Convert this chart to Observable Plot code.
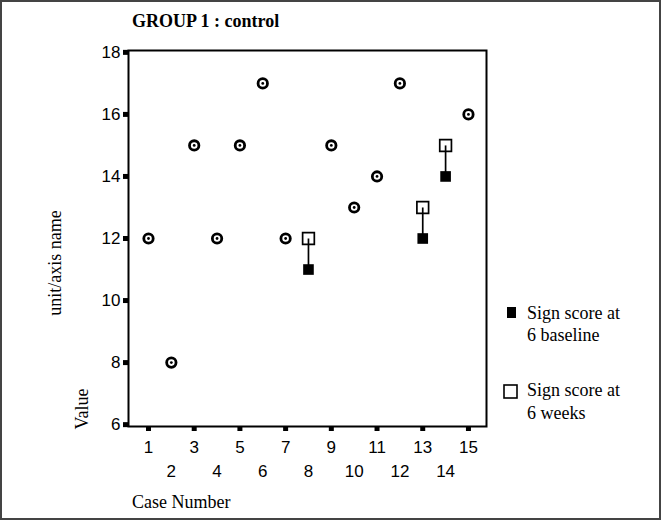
<!DOCTYPE html>
<html>
<head>
<meta charset="utf-8">
<script src="https://cdn.jsdelivr.net/npm/d3@7"></script>
<script src="https://cdn.jsdelivr.net/npm/@observablehq/plot@0.6"></script>
<style>
  html, body { margin: 0; padding: 0; background: #fff; }
  #chart { width: 662px; height: 521px; }
</style>
</head>
<body>
<div id="chart"></div>
<script>
// ---- data ----
const cases = [1, 2, 3, 4, 5, 6, 7, 8, 9, 10, 11, 12, 13, 14, 15];
const baseline = [12, 8, 15, 12, 15, 17, 12, 11, 15, 13, 14, 17, 12, 14, 16];
const weeks6   = [12, 8, 15, 12, 15, 17, 12, 12, 15, 13, 14, 17, 13, 15, 16];
const yTicks = [6, 8, 10, 12, 14, 16, 18];
const xTicksOdd = [1, 3, 5, 7, 9, 11, 13, 15];
const xTicksEven = [2, 4, 6, 8, 10, 12, 14];
const titleText = "GROUP 1 : control";
const xTitle = "Case Number";
const yTitle1 = "unit/axis name";
const yTitle2 = "Value";
const legendItems = [
  ["Sign score at", "6 baseline"],
  ["Sign score at", "6 weeks"]
];

const rows = cases.map((c, i) => ({case: c, base: baseline[i], wk: weeks6[i]}));
const same = rows.filter(d => d.base === d.wk);
const diff = rows.filter(d => d.base !== d.wk);

const serif = "'Liberation Serif', 'Times New Roman', serif";
const sans = "'Liberation Sans', Arial, sans-serif";

const plot = Plot.plot({
  width: 662,
  height: 521,
  marginLeft: 128,
  marginTop: 50,
  marginRight: 176,
  marginBottom: 95,
  style: {background: "white", color: "black"},
  x: {domain: [0.125, 15.79]},
  y: {domain: [5.94, 18.06]},
  marks: [
    Plot.frame({stroke: "black", strokeWidth: 2}),
    Plot.axisY(yTicks, {tickSize: 5, strokeWidth: 5, tickPadding: 3, fontSize: 17, fontFamily: sans, label: null}),
    Plot.axisX(xTicksOdd, {tickSize: 5, strokeWidth: 5, tickPadding: 9, fontSize: 17, fontFamily: sans, label: null}),
    Plot.axisX(xTicksEven, {tickSize: 0, tickPadding: 38, fontSize: 17, fontFamily: sans, label: null}),
    // baseline filled squares (differ)
    Plot.dot(diff, {x: "case", y: "base", symbol: "square", r: 6, fill: "black", stroke: "none"}),
    // 6 weeks open squares
    Plot.dot(diff, {x: "case", y: "wk", symbol: "square", r: 6.6, fill: "none", stroke: "black", strokeWidth: 1.7}),
    Plot.link(diff, {x1: "case", x2: "case", y1: "wk", y2: "base", stroke: "black", strokeWidth: 1.7}),
    // coincident values: ring with center dot
    Plot.dot(same, {x: "case", y: "base", r: 4.7, fill: "white", stroke: "black", strokeWidth: 2.8}),
    Plot.dot(same, {x: "case", y: "base", r: 1.4, fill: "black", stroke: "none"})
  ]
});

document.getElementById("chart").appendChild(plot);

const svg = d3.select(plot);
// outer border
svg.append("rect").attr("x", 1).attr("y", 1).attr("width", 659).attr("height", 518)
  .attr("fill", "none").attr("stroke", "#444").attr("stroke-width", 2);

const txt = (x, y, s, extra = {}) => {
  const t = svg.append("text").attr("x", x).attr("y", y)
    .attr("font-family", serif).attr("font-size", 18).attr("fill", "black")
    .attr("text-anchor", "start").text(s);
  for (const k in extra) t.attr(k, extra[k]);
  return t;
};

txt(132, 27, titleText, {"font-weight": "bold"});
txt(132, 508, xTitle);

svg.append("text").attr("transform", "translate(61,263) rotate(-90)")
  .attr("text-anchor", "middle")
  .attr("font-family", serif).attr("font-size", 18).attr("fill", "black").text(yTitle1);

svg.append("text").attr("transform", "translate(88,409) rotate(-90)")
  .attr("text-anchor", "middle")
  .attr("font-family", serif).attr("font-size", 18).attr("fill", "black").text(yTitle2);

// legend
svg.append("rect").attr("x", 507).attr("y", 307).attr("width", 9).attr("height", 11).attr("fill", "black");
svg.append("rect").attr("x", 504).attr("y", 385).attr("width", 13).attr("height", 13)
  .attr("fill", "white").attr("stroke", "black").attr("stroke-width", 1.6);
const legY = [[319, 341], [396, 419]];
legendItems.forEach((lines, i) => {
  lines.forEach((t, j) => txt(527, legY[i][j], t));
});
</script>
</body>
</html>
